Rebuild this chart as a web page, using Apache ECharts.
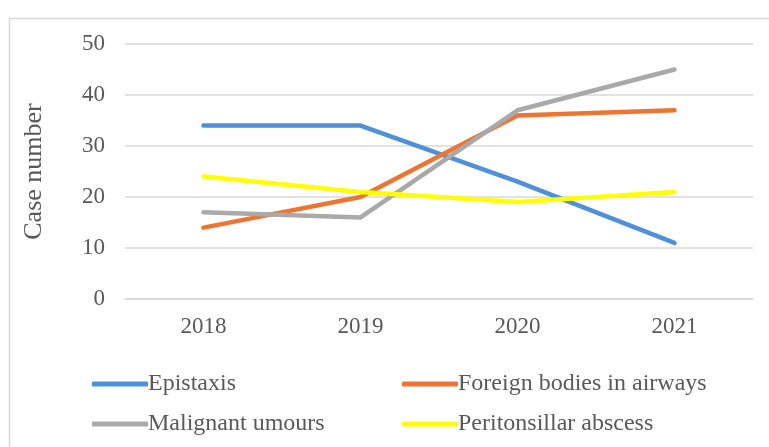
<!DOCTYPE html>
<html>
<head>
<meta charset="utf-8">
<script src="https://cdn.jsdelivr.net/npm/echarts@6/dist/echarts.min.js"></script>
<style>
  html, body { margin: 0; padding: 0; background: #fff; }
  #chart { width: 769px; height: 447px; }
</style>
</head>
<body>
<div id="chart"></div>
<script>
const years = ['2018', '2019', '2020', '2021']
const epistaxis = [34, 34, 23, 11]
const foreignBodies = [14, 20, 36, 37]
const malignant = [17, 16, 37, 45]
const peritonsillar = [24, 21, 19, 21]

const seriesDefs = [
  { name: 'Epistaxis', data: epistaxis, color: '#4E91D8' },
  { name: 'Foreign bodies in airways', data: foreignBodies, color: '#ED7531' },
  { name: 'Malignant umours', data: malignant, color: '#A9A9A9' },
  { name: 'Peritonsillar abscess', data: peritonsillar, color: '#FFFF00' }
]

const font = 'Liberation Serif, Times New Roman, serif'
const chart = echarts.init(document.getElementById('chart'))

const legendBase = {
  icon: 'roundRect',
  itemWidth: 56,
  itemHeight: 5,
  textStyle: { fontFamily: font, fontSize: 24, color: '#595959', padding: [0, 0, 0, -5] }
}

chart.setOption({
  backgroundColor: '#fff',
  animation: false,
  graphic: [{
    type: 'rect',
    left: 7, top: 16,
    shape: { width: 790, height: 460 },
    style: { fill: 'none', stroke: '#d9d9d9', lineWidth: 1.5 },
    silent: true
  }],
  grid: { left: 125, right: 16, top: 44, bottom: 148 },
  legend: [
    { ...legendBase, left: 87, top: 367, data: [seriesDefs[0].name] },
    { ...legendBase, left: 397, top: 367, data: [seriesDefs[1].name] },
    { ...legendBase, left: 87, top: 407, data: [seriesDefs[2].name] },
    { ...legendBase, left: 397, top: 407, data: [seriesDefs[3].name] }
  ],
  xAxis: {
    type: 'category',
    data: years,
    axisTick: { show: false },
    axisLine: { lineStyle: { color: '#d9d9d9', width: 1.5 } },
    axisLabel: { fontFamily: font, fontSize: 23, color: '#595959', margin: 16 }
  },
  yAxis: {
    type: 'value',
    min: 0, max: 50, interval: 10,
    name: 'Case number',
    nameLocation: 'middle',
    nameGap: 78,
    nameTextStyle: { fontFamily: font, fontSize: 26, color: '#595959' },
    axisLabel: { fontFamily: font, fontSize: 23, color: '#595959', margin: 20 },
    splitLine: { lineStyle: { color: '#d9d9d9', width: 1.5 } }
  },
  series: seriesDefs.map(s => ({
    name: s.name,
    type: 'line',
    data: s.data,
    symbol: 'none',
    color: s.color,
    lineStyle: { color: s.color, width: 4.5, cap: 'round', join: 'round' }
  }))
})
</script>
</body>
</html>
